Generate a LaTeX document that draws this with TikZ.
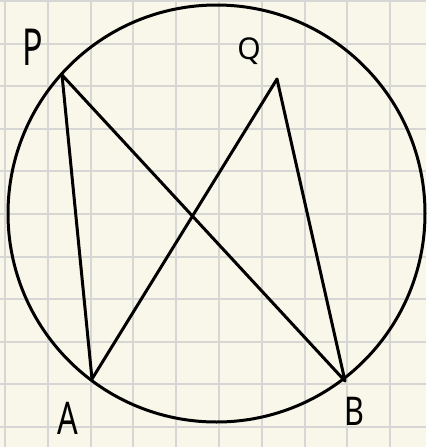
\documentclass[tikz,border=0pt]{standalone}
\usepackage{fontspec}
\setmainfont{Noto Sans}
\definecolor{paper}{HTML}{F8F7EA}
\definecolor{gridc}{HTML}{D6D6D4}
\begin{document}
\begin{tikzpicture}[x=1pt,y=-1pt,
  geo/.style={line width=3pt, black, line join=round, line cap=round},
  lbl/.style={inner sep=0pt, font=\fontsize{34}{34}\selectfont}]
\fill[paper] (0,0) rectangle (426,447);
\useasboundingbox (0,0) rectangle (426,447);
\foreach \i in {0,...,9} {
  \draw[gridc, line width=2pt] ({5+42.8*\i},0) -- ({5+42.8*\i},447);
}
\foreach \j in {0,...,10} {
  \draw[gridc, line width=2pt] (0,{1+42.6*\j}) -- (426,{1+42.6*\j});
}
\coordinate (O) at (216.5,213.5);
\coordinate (P) at (62,75);
\coordinate (Q) at (277,79);
\coordinate (A) at (92,379);
\coordinate (B) at (345,381);
\draw[geo] (O) circle (208.5);
\draw[geo] (A) -- (P) -- (B) -- (Q) -- cycle;
\node[lbl] (lP) at (33,47) {\scalebox{1}[1.5]{P}};
\node[lbl, font=\fontsize{30}{30}\selectfont] (lQ) at (249,51) {Q};
\node[lbl, font=\fontsize{36}{36}\selectfont] (lA) at (68,418) {\scalebox{0.9}[1.25]{A}};
\node[lbl, font=\fontsize{36}{36}\selectfont] (lB) at (354.5,411) {\scalebox{0.85}[1.1]{B}};
\end{tikzpicture}
\end{document}
